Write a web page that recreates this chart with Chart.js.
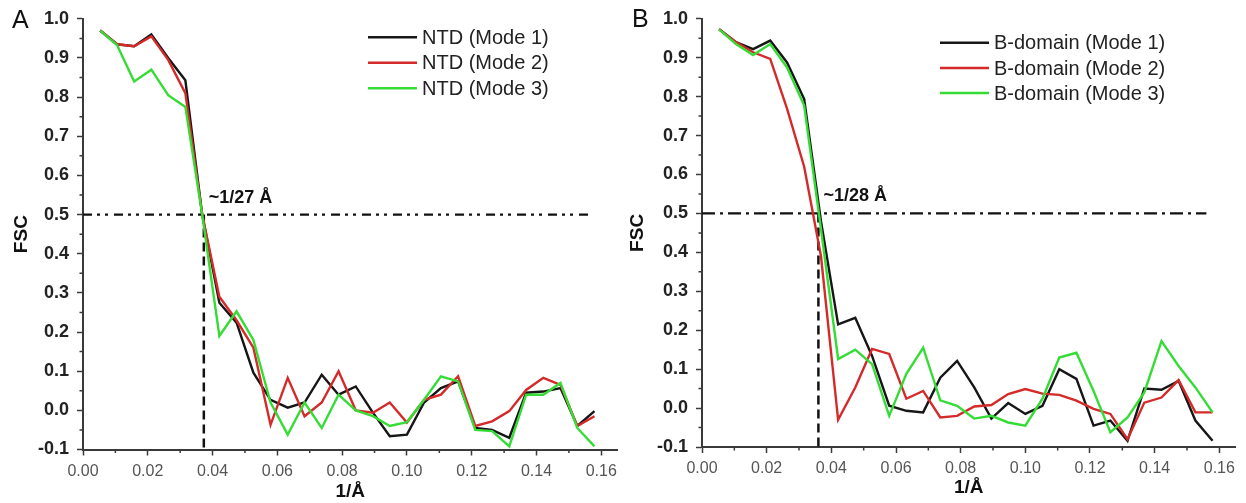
<!DOCTYPE html>
<html>
<head>
<meta charset="utf-8">
<script src="https://cdn.jsdelivr.net/npm/chart.js@4.4.1/dist/chart.umd.min.js"></script>
<style>
  html, body { margin: 0; padding: 0; background: #fff; }
  #wrap { position: relative; width: 1246px; height: 503px; }
  .panel { position: absolute; top: 0; width: 623px; height: 503px; }
</style>
</head>
<body>
<div id="wrap">
  <div class="panel" style="left:0"><canvas id="chartA"></canvas></div>
  <div class="panel" style="left:623px"><canvas id="chartB"></canvas></div>
</div>
<script>
// spatial frequency (1/Å) of each FSC shell
const freq = [0.0053, 0.0105, 0.0158, 0.0211, 0.0263, 0.0316, 0.0368, 0.0421, 0.0474, 0.0526,
              0.0579, 0.0632, 0.0684, 0.0737, 0.0789, 0.0842, 0.0895, 0.0947, 0.1000, 0.1053,
              0.1105, 0.1158, 0.1211, 0.1263, 0.1316, 0.1368, 0.1421, 0.1474, 0.1526, 0.1579];

// panel A - NTD
const ntdMode1 = [0.970, 0.935, 0.930, 0.960, 0.900, 0.843, 0.500, 0.275, 0.224, 0.096,
                  0.027, 0.007, 0.020, 0.091, 0.040, 0.061, -0.006, -0.066, -0.062, 0.020,
                  0.057, 0.074, -0.045, -0.050, -0.070, 0.045, 0.048, 0.057, -0.040, -0.002];
const ntdMode2 = [0.970, 0.935, 0.930, 0.955, 0.895, 0.810, 0.500, 0.290, 0.230, 0.160,
                  -0.037, 0.083, -0.015, 0.020, 0.100, 0.000, -0.006, 0.020, -0.031, 0.027,
                  0.040, 0.087, -0.040, -0.028, -0.002, 0.052, 0.083, 0.065, -0.040, -0.015];
const ntdMode3 = [0.970, 0.933, 0.840, 0.870, 0.805, 0.775, 0.500, 0.190, 0.253, 0.180,
                  0.020, -0.062, 0.020, -0.045, 0.040, 0.000, -0.015, -0.040, -0.030, 0.027,
                  0.087, 0.074, -0.050, -0.053, -0.092, 0.040, 0.040, 0.070, -0.045, -0.092];

// panel B - B-domain
const bdomMode1 = [0.973, 0.940, 0.922, 0.944, 0.888, 0.794, 0.480, 0.215, 0.232, 0.134,
                   0.006, -0.007, -0.011, 0.078, 0.121, 0.053, -0.027, 0.013, -0.015, 0.006,
                   0.100, 0.075, -0.045, -0.032, -0.084, 0.050, 0.047, 0.070, -0.032, -0.084];
const bdomMode2 = [0.973, 0.940, 0.914, 0.897, 0.769, 0.620, 0.390, -0.030, 0.053, 0.152,
                   0.139, 0.024, 0.044, -0.024, -0.020, 0.004, 0.008, 0.036, 0.049, 0.037,
                   0.034, 0.019, -0.002, -0.015, -0.080, 0.014, 0.027, 0.072, -0.011, -0.011];
const bdomMode3 = [0.973, 0.935, 0.907, 0.935, 0.875, 0.777, 0.460, 0.126, 0.150, 0.113,
                   -0.020, 0.088, 0.155, 0.020, 0.006, -0.027, -0.020, -0.037, -0.045, 0.024,
                   0.130, 0.142, 0.044, -0.062, -0.024, 0.040, 0.172, 0.108, 0.053, -0.011];

// thresholds / cutoffs
const fscThreshold = 0.5;
const cutoffA = 0.0373;   // ~1/27 Å
const cutoffB = 0.0360;   // ~1/28 Å
const thresholdEnd = [0.157, 0.156];

// ticks
const xTicks = [0, 0.02, 0.04, 0.06, 0.08, 0.10, 0.12, 0.14, 0.16];
const xMinorTicks = [0.01, 0.03, 0.05, 0.07, 0.09, 0.11, 0.13, 0.15];
const yTicks = [-0.1, 0.0, 0.1, 0.2, 0.3, 0.4, 0.5, 0.6, 0.7, 0.8, 0.9, 1.0];
const yMinorTicks = [-0.05, 0.05, 0.15, 0.25, 0.35, 0.45, 0.55, 0.65, 0.75, 0.85, 0.95];

const FONT = '"Liberation Sans", Arial, sans-serif';
const AXIS_COLOR = '#3a3a3a';
const LINE_COLORS = ['#161616', '#d42a2a', '#35dc35'];

const toPoints = (ys) => freq.map((x, i) => ({ x: x, y: ys[i] }));

/* draws minor ticks, the panel letter, the cutoff label and the legend */
const panelExtras = {
    id: 'panelExtras',
    afterDraw(chart, args, opts) {
        const ctx = chart.ctx;
        const area = chart.chartArea;
        const xs = chart.scales.x;
        const ys = chart.scales.y;
        ctx.save();

        ctx.strokeStyle = AXIS_COLOR;
        ctx.lineWidth = 1.5;
        ctx.beginPath();
        xMinorTicks.forEach(function (v) {
            const px = xs.getPixelForValue(v);
            ctx.moveTo(px, area.bottom);
            ctx.lineTo(px, area.bottom + 3.5);
        });
        yMinorTicks.forEach(function (v) {
            const py = ys.getPixelForValue(v);
            ctx.moveTo(area.left, py);
            ctx.lineTo(area.left - 3.5, py);
        });
        ctx.stroke();

        ctx.fillStyle = '#111';
        ctx.textBaseline = 'alphabetic';
        ctx.font = '25px ' + FONT;
        ctx.fillText(opts.letter, opts.letterX, opts.letterY);

        ctx.textBaseline = 'middle';
        ctx.font = 'bold 18px ' + FONT;
        ctx.fillText(opts.cutoffLabel, xs.getPixelForValue(opts.cutoff) + 5,
                     ys.getPixelForValue(fscThreshold) - 17);

        // legend
        ctx.font = '20px ' + FONT;
        opts.legendRows.forEach(function (rowY, i) {
            const ds = chart.data.datasets[i];
            ctx.strokeStyle = ds.borderColor;
            ctx.lineWidth = 2.5;
            ctx.beginPath();
            ctx.moveTo(opts.legendX, rowY);
            ctx.lineTo(opts.legendX + 49, rowY);
            ctx.stroke();
            ctx.fillStyle = '#222';
            ctx.fillText(ds.label, opts.legendX + 54, rowY + 1);
        });
        ctx.restore();
    }
};

function makePanel(canvasId, series, labels, cutoff, hEnd, hDash, geo, extras) {
    const datasets = series.map(function (ys, i) {
        return {
            label: labels[i],
            data: toPoints(ys),
            borderColor: LINE_COLORS[i],
            borderWidth: 2.4,
            pointRadius: 0,
            tension: 0,
            order: 3 - i,
        };
    });
    // FSC = 0.5 threshold and resolution cutoff
    datasets.push({
        label: 'threshold',
        data: [{ x: 0, y: fscThreshold }, { x: hEnd, y: fscThreshold }],
        borderColor: '#111', borderWidth: 2.2, borderDash: hDash,
        pointRadius: 0, order: 5,
    });
    datasets.push({
        label: 'cutoff',
        data: [{ x: cutoff, y: fscThreshold }, { x: cutoff, y: -0.1 }],
        borderColor: '#111', borderWidth: 2.5, borderDash: [9, 5],
        pointRadius: 0, order: 5,
    });

    return new Chart(document.getElementById(canvasId), {
        type: 'line',
        data: { datasets: datasets },
        plugins: [panelExtras],
        options: {
            responsive: true,
            maintainAspectRatio: false,
            animation: false,
            layout: { padding: geo.padding },
            plugins: {
                legend: { display: false },
                tooltip: { enabled: false },
                panelExtras: extras,
            },
            scales: {
                x: {
                    type: 'linear',
                    min: 0,
                    max: 0.165,
                    afterBuildTicks: (scale) => { scale.ticks = xTicks.map((v) => ({ value: v })); },
                    afterFit: (scale) => { scale.height = geo.xHeight; },
                    grid: { drawOnChartArea: false, tickLength: 6, tickWidth: 1.5, tickColor: AXIS_COLOR },
                    border: { color: AXIS_COLOR, width: 2 },
                    ticks: {
                        padding: 6,
                        color: '#555',
                        font: { family: FONT, size: 16 },
                        callback: (v) => v.toFixed(2),
                    },
                    title: {
                        display: true,
                        text: '1/Å',
                        color: '#111',
                        font: { family: FONT, size: 19, weight: 'bold' },
                        padding: { top: 0, bottom: geo.xTitlePad },
                    },
                },
                y: {
                    type: 'linear',
                    min: -0.1,
                    max: 1.0,
                    afterBuildTicks: (scale) => { scale.ticks = yTicks.map((v) => ({ value: v })); },
                    afterFit: (scale) => { scale.width = geo.yWidth; },
                    grid: { drawOnChartArea: false, tickLength: 6, tickWidth: 1.5, tickColor: AXIS_COLOR },
                    border: { color: AXIS_COLOR, width: 2 },
                    ticks: {
                        padding: 8,
                        color: '#222',
                        font: { family: FONT, size: 18, weight: 'bold' },
                        callback: (v) => v.toFixed(1),
                    },
                    title: {
                        display: true,
                        text: 'FSC',
                        color: '#111',
                        font: { family: FONT, size: 19, weight: 'bold' },
                        padding: { top: geo.yTitlePad, bottom: 0 },
                    },
                },
            },
        },
    });
}

makePanel('chartA',
    [ntdMode1, ntdMode2, ntdMode3],
    ['NTD (Mode 1)', 'NTD (Mode 2)', 'NTD (Mode 3)'],
    cutoffA, thresholdEnd[0], [9, 5, 3, 5, 3, 6],
    { padding: { top: 18, right: 5, bottom: 0, left: 0 }, yWidth: 83, xHeight: 53.5, xTitlePad: 0, yTitlePad: 10 },
    { letter: 'A', letterX: 12, letterY: 28, cutoff: cutoffA, cutoffLabel: '~1/27 Å',
      legendX: 368, legendRows: [37.3, 62.7, 88.3] });

makePanel('chartB',
    [bdomMode1, bdomMode2, bdomMode3],
    ['B-domain (Mode 1)', 'B-domain (Mode 2)', 'B-domain (Mode 3)'],
    cutoffB, thresholdEnd[1], [13, 5, 3, 5],
    { padding: { top: 15, right: 10.5, bottom: 0, left: 0 }, yWidth: 79, xHeight: 56, xTitlePad: 4, yTitlePad: 3 },
    { letter: 'B', letterX: 9, letterY: 27, cutoff: cutoffB, cutoffLabel: '~1/28 Å',
      legendX: 317, legendRows: [42.7, 68, 93] });
</script>
</body>
</html>
